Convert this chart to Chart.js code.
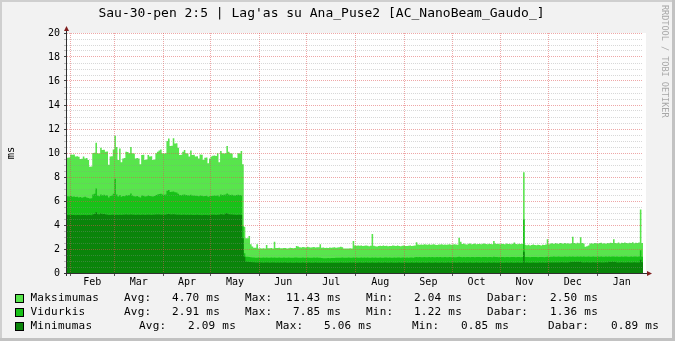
<!DOCTYPE html>
<html>
<head>
<meta charset="utf-8">
<title>Lag'as su Ana_Puse2</title>
<script src="https://cdn.jsdelivr.net/npm/chart.js"></script>
<style>
  html, body { margin: 0; padding: 0; background: #F2F2F2; }
  #wrap { width: 675px; height: 341px; }
</style>
</head>
<body>
<div id="wrap"><canvas id="rrdChart" width="675" height="341"></canvas></div>
<script>
// Dienos nuo sausio 30 d. (viena reiksme per diena), ms
const maxMs = [
  9.60, 9.62, 9.88, 9.86, 9.88, 9.70, 9.72, 9.68, 9.50, 9.52,
  9.70, 9.55, 9.58, 9.42, 8.86, 8.88, 10.00, 10.02, 10.86, 9.97,
  9.95, 10.44, 10.25, 10.28, 10.10, 10.12, 9.02, 9.70, 9.72, 10.30,
  11.43, 10.50, 9.42, 10.38, 9.22, 9.55, 9.58, 10.10, 10.08, 9.97,
  10.50, 9.97, 9.95, 9.55, 9.58, 9.55, 9.06, 9.83, 9.85, 9.42,
  9.45, 9.83, 9.70, 9.72, 9.42, 9.45, 9.97, 10.10, 10.20, 10.30,
  9.97, 9.95, 9.97, 11.00, 11.20, 10.58, 10.60, 11.22, 10.80, 10.82,
  10.44, 9.83, 9.85, 10.10, 10.25, 9.97, 9.95, 9.70, 10.20, 9.83,
  9.85, 9.70, 9.72, 9.55, 9.88, 9.86, 9.42, 9.60, 9.62, 9.14,
  9.55, 9.70, 9.78, 9.80, 9.76, 9.97, 9.22, 10.17, 9.97, 9.95,
  9.98, 10.58, 10.10, 9.97, 9.95, 9.60, 9.62, 9.58, 9.97, 9.95,
  10.17, 9.06, 3.86, 2.89, 2.89, 3.08, 2.40, 2.20, 2.11, 2.10,
  2.40, 2.05, 2.07, 2.04, 2.06, 2.05, 2.33, 2.06, 2.06, 2.08,
  2.05, 2.61, 2.08, 2.08, 2.10, 2.07, 2.06, 2.09, 2.08, 2.05,
  2.07, 2.10, 2.08, 2.06, 2.09, 2.25, 2.20, 2.15, 2.12, 2.16,
  2.14, 2.13, 2.18, 2.15, 2.12, 2.14, 2.17, 2.13, 2.15, 2.14,
  2.39, 2.10, 2.12, 2.08, 2.11, 2.09, 2.13, 2.10, 2.12, 2.15,
  2.10, 2.12, 2.14, 2.19, 2.15, 2.05, 2.04, 2.05, 2.04, 2.06,
  2.05, 2.67, 2.29, 2.28, 2.30, 2.27, 2.29, 2.26, 2.28, 2.30,
  2.27, 2.22, 2.28, 3.25, 2.27, 2.22, 2.20, 2.24, 2.28, 2.26,
  2.30, 2.25, 2.28, 2.22, 2.26, 2.24, 2.30, 2.27, 2.25, 2.29,
  2.26, 2.23, 2.28, 2.30, 2.26, 2.24, 2.27, 2.29, 2.25, 2.28,
  2.30, 2.56, 2.38, 2.35, 2.38, 2.36, 2.40, 2.37, 2.35, 2.39,
  2.36, 2.38, 2.40, 2.36, 2.34, 2.38, 2.37, 2.40, 2.36, 2.38,
  2.35, 2.37, 2.39, 2.36, 2.38, 2.40, 2.37, 2.35, 2.94, 2.60,
  2.42, 2.45, 2.40, 2.38, 2.44, 2.46, 2.40, 2.42, 2.45, 2.39,
  2.41, 2.44, 2.40, 2.43, 2.46, 2.41, 2.39, 2.44, 2.42, 2.40,
  2.67, 2.45, 2.41, 2.43, 2.40, 2.44, 2.42, 2.39, 2.45, 2.41,
  2.43, 2.40, 2.44, 2.55, 2.42, 2.40, 2.44, 2.41, 2.43, 8.39,
  2.35, 2.32, 2.36, 2.30, 2.34, 2.38, 2.33, 2.31, 2.36, 2.34,
  2.30, 2.35, 2.33, 2.37, 2.81, 2.40, 2.45, 2.48, 2.42, 2.50,
  2.46, 2.44, 2.49, 2.47, 2.43, 2.50, 2.46, 2.48, 2.44, 2.47,
  3.03, 2.50, 2.46, 2.52, 2.48, 2.97, 2.50, 2.45, 2.19, 2.22,
  2.30, 2.45, 2.48, 2.44, 2.50, 2.47, 2.45, 2.49, 2.52, 2.46,
  2.48, 2.44, 2.50, 2.47, 2.53, 2.49, 2.81, 2.50, 2.48, 2.54,
  2.46, 2.52, 2.49, 2.55, 2.51, 2.47, 2.53, 2.50, 2.56, 2.48,
  2.52, 2.50, 2.54, 5.30, 2.50
];

const avgMs = [
  6.40, 6.38, 6.42, 6.35, 6.37, 6.33, 6.36, 6.30, 6.34, 6.28,
  6.32, 6.35, 6.30, 6.25, 6.20, 6.22, 6.55, 6.60, 7.05, 6.45,
  6.40, 6.55, 6.48, 6.52, 6.45, 6.47, 6.30, 6.42, 6.45, 6.60,
  7.85, 6.55, 6.38, 6.50, 6.35, 6.42, 6.40, 6.48, 6.45, 6.50,
  6.62, 6.45, 6.40, 6.38, 6.42, 6.36, 6.30, 6.45, 6.43, 6.38,
  6.40, 6.45, 6.42, 6.40, 6.38, 6.42, 6.50, 6.55, 6.58, 6.60,
  6.55, 6.52, 6.55, 6.85, 6.92, 6.75, 6.78, 6.80, 6.72, 6.70,
  6.60, 6.50, 6.48, 6.52, 6.55, 6.50, 6.48, 6.45, 6.52, 6.46,
  6.45, 6.43, 6.44, 6.40, 6.46, 6.44, 6.40, 6.42, 6.43, 6.35,
  6.40, 6.42, 6.44, 6.45, 6.43, 6.48, 6.38, 6.55, 6.50, 6.52,
  6.55, 6.62, 6.55, 6.50, 6.52, 6.48, 6.46, 6.50, 6.52, 6.50,
  6.48, 3.90, 1.64, 1.36, 1.35, 1.34, 1.32, 1.30, 1.29, 1.28,
  1.28, 1.29, 1.27, 1.28, 1.30, 1.28, 1.29, 1.27, 1.28, 1.29,
  1.28, 1.30, 1.28, 1.27, 1.29, 1.28, 1.28, 1.30, 1.27, 1.28,
  1.29, 1.28, 1.27, 1.28, 1.29, 1.30, 1.28, 1.27, 1.28, 1.29,
  1.28, 1.27, 1.29, 1.28, 1.28, 1.27, 1.29, 1.28, 1.30, 1.28,
  1.27, 1.24, 1.22, 1.23, 1.22, 1.24, 1.23, 1.25, 1.24, 1.26,
  1.27, 1.28, 1.27, 1.28, 1.29, 1.28, 1.27, 1.28, 1.29, 1.28,
  1.28, 1.30, 1.28, 1.29, 1.28, 1.27, 1.29, 1.28, 1.30, 1.28,
  1.29, 1.28, 1.27, 1.30, 1.28, 1.29, 1.28, 1.27, 1.29, 1.28,
  1.28, 1.29, 1.30, 1.28, 1.29, 1.28, 1.27, 1.29, 1.28, 1.30,
  1.29, 1.28, 1.29, 1.30, 1.28, 1.29, 1.28, 1.30, 1.29, 1.28,
  1.31, 1.33, 1.32, 1.33, 1.31, 1.32, 1.33, 1.32, 1.31, 1.33,
  1.32, 1.33, 1.32, 1.31, 1.33, 1.32, 1.33, 1.31, 1.32, 1.33,
  1.32, 1.31, 1.33, 1.32, 1.33, 1.32, 1.31, 1.33, 1.35, 1.33,
  1.32, 1.33, 1.32, 1.34, 1.33, 1.32, 1.33, 1.34, 1.32, 1.33,
  1.34, 1.33, 1.32, 1.33, 1.34, 1.33, 1.32, 1.34, 1.33, 1.32,
  1.35, 1.33, 1.34, 1.32, 1.33, 1.34, 1.33, 1.32, 1.34, 1.33,
  1.32, 1.33, 1.34, 1.33, 1.32, 1.34, 1.33, 1.32, 1.33, 4.47,
  1.33, 1.34, 1.33, 1.32, 1.34, 1.33, 1.34, 1.33, 1.32, 1.34,
  1.33, 1.34, 1.32, 1.33, 1.35, 1.34, 1.36, 1.35, 1.37, 1.36,
  1.35, 1.37, 1.36, 1.35, 1.36, 1.37, 1.35, 1.36, 1.37, 1.36,
  1.38, 1.36, 1.35, 1.37, 1.36, 1.38, 1.36, 1.37, 1.35, 1.36,
  1.37, 1.36, 1.35, 1.37, 1.36, 1.35, 1.37, 1.36, 1.38, 1.36,
  1.35, 1.37, 1.36, 1.38, 1.36, 1.37, 1.38, 1.36, 1.37, 1.35,
  1.36, 1.37, 1.36, 1.38, 1.37, 1.36, 1.35, 1.37, 1.36, 1.38,
  1.37, 1.36, 1.38, 1.90, 1.36
];

const minMs = [
  4.83, 4.84, 4.85, 4.83, 4.84, 4.82, 4.83, 4.84, 4.82, 4.83,
  4.84, 4.83, 4.82, 4.84, 4.83, 4.82, 4.88, 4.92, 5.06, 4.90,
  4.88, 4.95, 4.90, 4.92, 4.88, 4.86, 4.84, 4.83, 4.85, 4.86,
  4.84, 4.86, 4.83, 4.85, 4.84, 4.86, 4.85, 4.87, 4.86, 4.85,
  4.88, 4.86, 4.85, 4.84, 4.86, 4.85, 4.84, 4.86, 4.85, 4.84,
  4.85, 4.86, 4.85, 4.84, 4.85, 4.86, 4.88, 4.87, 4.88, 4.86,
  4.85, 4.86, 4.85, 4.90, 4.92, 4.88, 4.87, 4.89, 4.88, 4.86,
  4.85, 4.86, 4.84, 4.85, 4.86, 4.84, 4.85, 4.83, 4.85, 4.84,
  4.83, 4.84, 4.85, 4.83, 4.84, 4.82, 4.83, 4.84, 4.83, 4.82,
  4.84, 4.85, 4.86, 4.85, 4.84, 4.86, 4.85, 4.90, 4.88, 4.86,
  4.95, 4.98, 4.90, 4.88, 4.87, 4.86, 4.85, 4.84, 4.86, 4.85,
  4.84, 2.89, 1.36, 0.94, 0.93, 0.92, 0.91, 0.90, 0.89, 0.88,
  0.88, 0.87, 0.88, 0.87, 0.86, 0.87, 0.88, 0.87, 0.86, 0.87,
  0.87, 0.88, 0.86, 0.87, 0.86, 0.87, 0.86, 0.88, 0.87, 0.86,
  0.86, 0.87, 0.86, 0.85, 0.86, 0.87, 0.86, 0.85, 0.86, 0.87,
  0.86, 0.85, 0.86, 0.87, 0.86, 0.85, 0.86, 0.87, 0.86, 0.85,
  0.86, 0.85, 0.86, 0.85, 0.86, 0.85, 0.86, 0.85, 0.86, 0.85,
  0.86, 0.85, 0.86, 0.87, 0.86, 0.85, 0.86, 0.85, 0.86, 0.87,
  0.86, 0.87, 0.86, 0.85, 0.86, 0.87, 0.86, 0.85, 0.86, 0.87,
  0.86, 0.85, 0.86, 0.88, 0.86, 0.85, 0.86, 0.87, 0.86, 0.85,
  0.86, 0.87, 0.86, 0.85, 0.86, 0.87, 0.86, 0.85, 0.86, 0.86,
  0.87, 0.86, 0.85, 0.86, 0.87, 0.86, 0.85, 0.86, 0.87, 0.86,
  0.86, 0.87, 0.86, 0.85, 0.86, 0.87, 0.86, 0.85, 0.86, 0.87,
  0.86, 0.85, 0.86, 0.87, 0.86, 0.85, 0.86, 0.87, 0.86, 0.85,
  0.86, 0.87, 0.86, 0.85, 0.86, 0.87, 0.86, 0.85, 0.88, 0.86,
  0.86, 0.87, 0.86, 0.85, 0.86, 0.87, 0.86, 0.85, 0.86, 0.87,
  0.86, 0.85, 0.86, 0.87, 0.86, 0.85, 0.86, 0.87, 0.86, 0.85,
  0.87, 0.86, 0.85, 0.86, 0.87, 0.86, 0.85, 0.86, 0.87, 0.86,
  0.86, 0.87, 0.86, 0.85, 0.86, 0.87, 0.86, 0.85, 0.86, 1.78,
  0.86, 0.87, 0.86, 0.85, 0.86, 0.87, 0.86, 0.85, 0.86, 0.87,
  0.86, 0.87, 0.86, 0.85, 0.88, 0.87, 0.88, 0.87, 0.88, 0.87,
  0.88, 0.87, 0.88, 0.89, 0.87, 0.88, 0.87, 0.88, 0.89, 0.93,
  0.92, 0.93, 0.92, 0.93, 0.91, 0.93, 0.88, 0.87, 0.88, 0.89,
  0.88, 0.87, 0.88, 0.89, 0.88, 0.87, 0.88, 0.89, 0.88, 0.87,
  0.88, 0.89, 0.88, 0.93, 0.92, 0.93, 0.92, 0.93, 0.88, 0.87,
  0.88, 0.89, 0.88, 0.87, 0.88, 0.89, 0.88, 0.87, 0.88, 0.89,
  0.88, 0.87, 0.88, 1.10, 0.89
];

// Menesiai (asies zymos); diagrama prasideda sausio 30 d.
const monthNames = ['Feb', 'Mar', 'Apr', 'May', 'Jun', 'Jul', 'Aug', 'Sep', 'Oct', 'Nov', 'Dec', 'Jan'];
const monthDays = [28, 31, 30, 31, 30, 31, 31, 30, 31, 30, 31, 31];
const daysBeforeFeb = 2;
const totalDays = 365;

// Legenda
const seriesNames = ['Maksimumas', 'Vidurkis', 'Minimumas'];
const statAvg = [4.70, 2.91, 2.09];
const statMax = [11.43, 7.85, 5.06];
const statMin = [2.04, 1.22, 0.85];
const statNow = [2.50, 1.36, 0.89];

const titleText = "Sau-30-pen 2:5 | Lag'as su Ana_Puse2 [AC_NanoBeam_Gaudo_]";

const COL_MAX = '#58E54C';
const COL_AVG = '#18C118';
const COL_MIN = '#0A840A';
const GRID_MINOR = 'rgba(143,143,143,0.35)';
const GRID_MAJOR = 'rgba(222,79,79,0.5)';
const MONO = "'DejaVu Sans Mono', monospace";

// menesiu pradzios ir viduriai
const monthStarts = [];
const monthMids = [];
let d = daysBeforeFeb;
monthNames.forEach((m, i) => {
  monthStarts.push(d);
  monthMids.push(d + monthDays[i] / 2);
  d += monthDays[i];
});

function toPoints(arr) {
  const pts = arr.map((v, i) => ({ x: i, y: v }));
  pts.push({ x: arr.length, y: arr[arr.length - 1] });
  return pts;
}

const rrdDecor = {
  id: 'rrdDecor',
  beforeDraw(chart) {
    const { ctx, chartArea: a, width, height } = chart;
    ctx.save();
    ctx.fillStyle = '#F2F2F2';
    ctx.fillRect(0, 0, width, height);
    ctx.fillStyle = '#FFFFFF';
    ctx.fillRect(a.left, a.top, a.right - a.left + 3, a.bottom - a.top);
    ctx.restore();
  },
  afterDraw(chart) {
    const { ctx, chartArea: a, width, height } = chart;
    ctx.save();

    // asys
    ctx.strokeStyle = '#303030';
    ctx.lineWidth = 1;
    ctx.beginPath();
    ctx.moveTo(a.left - 3, a.bottom + 0.5);
    ctx.lineTo(a.right + 5, a.bottom + 0.5);
    ctx.moveTo(a.left - 0.5, a.bottom + 3);
    ctx.lineTo(a.left - 0.5, a.top - 4);
    ctx.stroke();

    // rodykles
    ctx.fillStyle = '#801F1F';
    ctx.beginPath();
    ctx.moveTo(a.left - 3, a.top - 2);
    ctx.lineTo(a.left + 2, a.top - 2);
    ctx.lineTo(a.left - 0.5, a.top - 7);
    ctx.closePath();
    ctx.fill();
    ctx.beginPath();
    ctx.moveTo(a.right + 4, a.bottom - 2);
    ctx.lineTo(a.right + 4, a.bottom + 3);
    ctx.lineTo(a.right + 9, a.bottom + 0.5);
    ctx.closePath();
    ctx.fill();

    // legenda
    const colors = [COL_MAX, COL_AVG, COL_MIN];
    const cols = [
      [124, 220, 245, 341, 366, 462, 487, 598],
      [124, 220, 245, 341, 366, 462, 487, 598],
      [139, 236, 276, 372, 412, 509, 548, 659]
    ];
    ctx.font = '11px ' + MONO;
    ctx.letterSpacing = '0.24px';
    ctx.textBaseline = 'middle';
    seriesNames.forEach((name, i) => {
      const y = 298.5 + i * 14;
      ctx.fillStyle = colors[i];
      ctx.fillRect(15.5, y - 4, 8, 8);
      ctx.strokeStyle = '#000';
      ctx.strokeRect(15.5, y - 4, 8, 8);
      ctx.fillStyle = '#000';
      ctx.textAlign = 'left';
      ctx.fillText(name, 30.5, y);
      const c = cols[i];
      ctx.fillText('Avg:', c[0], y);
      ctx.fillText('Max:', c[2], y);
      ctx.fillText('Min:', c[4], y);
      ctx.fillText('Dabar:', c[6], y);
      ctx.textAlign = 'right';
      ctx.fillText(statAvg[i].toFixed(2) + ' ms', c[1], y);
      ctx.fillText(statMax[i].toFixed(2) + ' ms', c[3], y);
      ctx.fillText(statMin[i].toFixed(2) + ' ms', c[5], y);
      ctx.fillText(statNow[i].toFixed(2) + ' ms', c[7], y);
    });
    ctx.letterSpacing = '0px';

    // vandens zenklas
    ctx.save();
    ctx.translate(664.5, 5);
    ctx.rotate(Math.PI / 2);
    ctx.font = '8.5px ' + MONO;
    ctx.fillStyle = '#A8A8A8';
    ctx.textAlign = 'left';
    ctx.textBaseline = 'middle';
    ctx.fillText('RRDTOOL / TOBI OETIKER', 0, 0);
    ctx.restore();

    // remelis
    ctx.fillStyle = '#CFCFCF';
    ctx.fillRect(0, 0, width, 2);
    ctx.fillRect(0, 0, 2, height);
    ctx.fillStyle = '#C2C2C2';
    ctx.fillRect(width - 3, 0, 3, height);
    ctx.fillRect(0, height - 3, width, 3);
    ctx.restore();
  }
};

Chart.defaults.font.family = MONO;
Chart.defaults.color = '#000';

new Chart(document.getElementById('rrdChart'), {
  type: 'line',
  data: {
    datasets: [
      { label: seriesNames[2], data: toPoints(minMs), backgroundColor: COL_MIN, borderColor: 'rgba(0,0,0,0)', fill: 'origin', stepped: true },
      { label: seriesNames[1], data: toPoints(avgMs), backgroundColor: COL_AVG, borderColor: 'rgba(0,0,0,0)', fill: 'origin', stepped: true },
      { label: seriesNames[0], data: toPoints(maxMs), backgroundColor: COL_MAX, borderColor: 'rgba(0,0,0,0)', fill: 'origin', stepped: true }
    ]
  },
  options: {
    responsive: false,
    animation: false,
    devicePixelRatio: 1,
    layout: { padding: { left: 0, right: 32, top: 0, bottom: 48 } },
    elements: { point: { radius: 0 }, line: { borderWidth: 0, tension: 0 } },
    plugins: {
      legend: { display: false },
      tooltip: { enabled: false },
      title: {
        display: true,
        text: titleText,
        color: '#000',
        font: { family: MONO, size: 13, weight: 'normal' },
        padding: { top: 6, bottom: 11.4 }
      }
    },
    scales: {
      x: {
        type: 'linear',
        min: 0,
        max: totalDays,
        afterFit: (s) => { s.height = 20; },
        afterBuildTicks: (s) => {
          s.ticks = monthStarts.concat(monthMids).sort((p, q) => p - q).map(v => ({ value: v }));
        },
        ticks: {
          autoSkip: false,
          maxRotation: 0,
          padding: 0,
          font: { size: 10 },
          callback: (v) => {
            const k = monthMids.indexOf(v);
            return k >= 0 ? monthNames[k] : '';
          }
        },
        grid: {
          z: 1,
          tickLength: 3,
          color: (c) => (c.tick && monthStarts.includes(c.tick.value) ? GRID_MAJOR : 'rgba(0,0,0,0)'),
          tickColor: (c) => (c.tick && monthStarts.includes(c.tick.value) ? '#555' : 'rgba(0,0,0,0)')
        },
        border: { display: false, dash: [1, 1] }
      },
      y: {
        min: 0,
        max: 20,
        afterFit: (s) => { s.width = 67; },
        ticks: {
          stepSize: 0.5,
          autoSkip: false,
          padding: 4,
          font: { size: 10 },
          callback: (v) => (v % 2 === 0 ? String(v) : '')
        },
        grid: {
          z: 1,
          tickLength: 3,
          color: (c) => (c.tick && c.tick.value % 2 === 0 ? GRID_MAJOR : GRID_MINOR),
          tickColor: (c) => (c.tick && c.tick.value % 2 === 0 ? '#444' : '#BBB')
        },
        border: { display: false, dash: [1, 1] },
        title: {
          display: true,
          text: 'ms',
          color: '#000',
          font: { size: 10.5 },
          padding: { top: 5, bottom: 0 }
        }
      }
    }
  },
  plugins: [rrdDecor]
});
</script>
</body>
</html>
